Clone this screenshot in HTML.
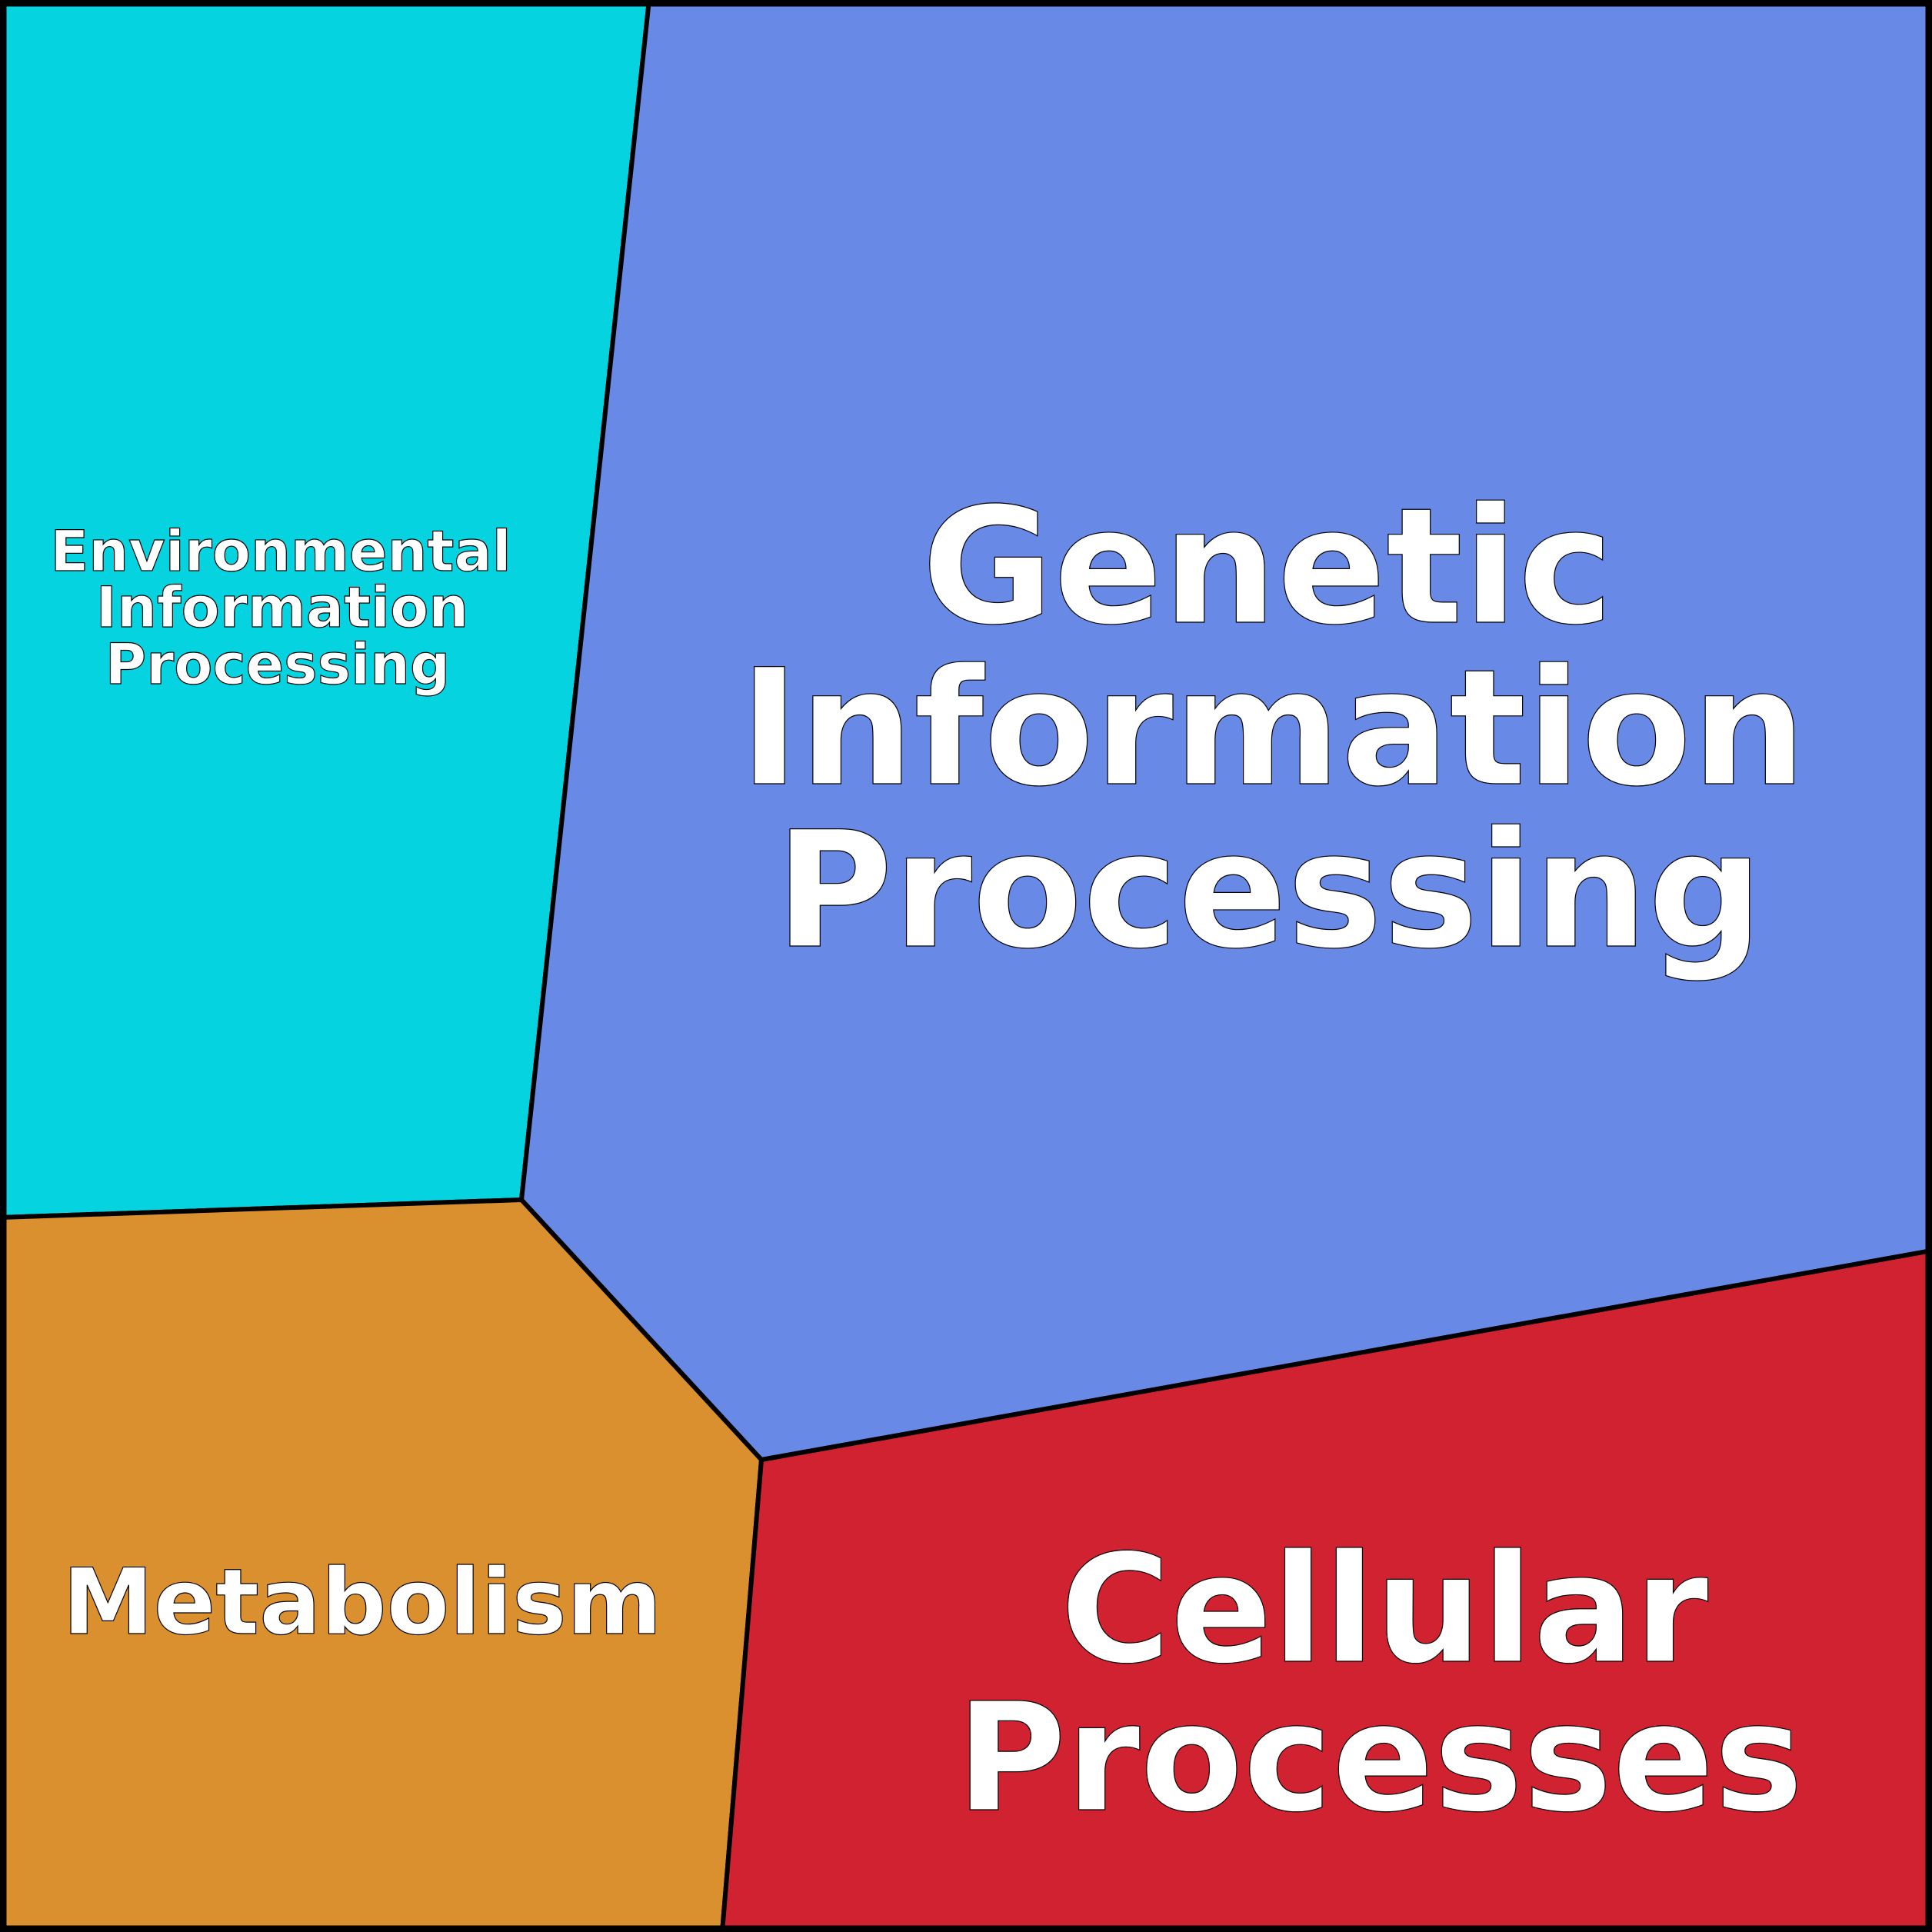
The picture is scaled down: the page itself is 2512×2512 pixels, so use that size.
<!DOCTYPE html>
<html><head><meta charset="utf-8"><style>html,body{margin:0;padding:0;background:#fff}svg{display:block}</style></head>
<body>
<svg width="2512" height="2512" viewBox="0 0 2512 2512" xmlns="http://www.w3.org/2000/svg">
<g stroke="#000" stroke-width="6" stroke-linejoin="round">
<polygon points="0,0 844,0 678,1560 0,1583" fill="#05d4e0"/>
<polygon points="844,0 2512,0 2512,1626 990,1898 678,1560" fill="#6889e5"/>
<polygon points="0,1583 678,1560 990,1898 939,2512 0,2512" fill="#db9030"/>
<polygon points="990,1898 2512,1626 2512,2512 939,2512" fill="#d02231"/>
</g>
<rect x="4" y="4" width="2504" height="2504" fill="none" stroke="#000" stroke-width="9"/>
<g font-family="'DejaVu Sans','Liberation Sans',sans-serif" font-weight="bold" fill="#fff" stroke="#000" stroke-width="1.2" text-anchor="middle">
<text font-size="209"><tspan x="1648" y="809">Genetic</tspan><tspan x="1655" y="1019">Information</tspan><tspan x="1650" y="1230">Processing</tspan></text>
<text font-size="73"><tspan x="365" y="742">Environmental</tspan><tspan x="367" y="815">Information</tspan><tspan x="361" y="889">Processing</tspan></text>
<text font-size="119" x="471" y="2124">Metabolism</text>
<text font-size="195"><tspan x="1800" y="2160">Cellular</tspan><tspan x="1794" y="2353">Processes</tspan></text>
</g>
</svg>
</body></html>
